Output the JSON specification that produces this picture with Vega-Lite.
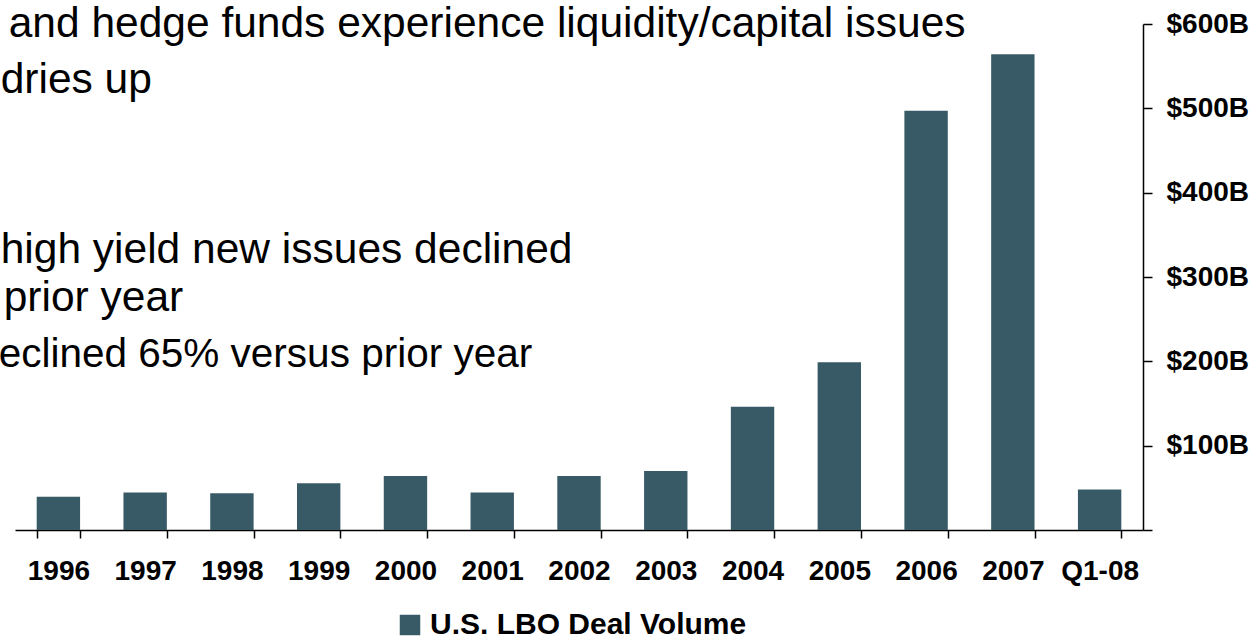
{
  "$schema": "https://vega.github.io/schema/vega-lite/v6.json",
  "autosize": {"type": "none"},
  "width": 1128,
  "height": 506,
  "padding": {"left": 15, "top": 24, "right": 110, "bottom": 109},
  "background": "white",
  "config": {
    "view": {"stroke": null},
    "font": "Liberation Sans"
  },
  "layer": [
    {
      "data": {
        "values": [
          {"period": "1996", "volume": 39.5, "series": "U.S. LBO Deal Volume"},
          {"period": "1997", "volume": 44.5, "series": "U.S. LBO Deal Volume"},
          {"period": "1998", "volume": 43.5, "series": "U.S. LBO Deal Volume"},
          {"period": "1999", "volume": 55.5, "series": "U.S. LBO Deal Volume"},
          {"period": "2000", "volume": 64, "series": "U.S. LBO Deal Volume"},
          {"period": "2001", "volume": 44.5, "series": "U.S. LBO Deal Volume"},
          {"period": "2002", "volume": 64, "series": "U.S. LBO Deal Volume"},
          {"period": "2003", "volume": 70, "series": "U.S. LBO Deal Volume"},
          {"period": "2004", "volume": 146, "series": "U.S. LBO Deal Volume"},
          {"period": "2005", "volume": 199, "series": "U.S. LBO Deal Volume"},
          {"period": "2006", "volume": 497, "series": "U.S. LBO Deal Volume"},
          {"period": "2007", "volume": 564, "series": "U.S. LBO Deal Volume"},
          {"period": "Q1-08", "volume": 48, "series": "U.S. LBO Deal Volume"}
        ]
      },
      "mark": {"type": "bar"},
      "encoding": {
        "x": {
          "field": "period",
          "type": "nominal",
          "sort": null,
          "scale": {"paddingInner": 0.5, "paddingOuter": 0.25},
          "axis": {
            "title": null,
            "labelAngle": 0,
            "labelFont": "Liberation Sans",
            "labelFontSize": 28,
            "labelFontWeight": "bold",
            "labelColor": "#000000",
            "labelPadding": 19,
            "domainColor": "#000000",
            "domainWidth": 1.5,
            "tickColor": "#000000",
            "tickWidth": 1.5,
            "tickSize": 8,
            "tickBand": "extent",
            "labelFlush": false
          }
        },
        "y": {
          "field": "volume",
          "type": "quantitative",
          "scale": {"domain": [0, 600], "nice": false},
          "axis": {
            "orient": "right",
            "title": null,
            "grid": false,
            "values": [0, 100, 200, 300, 400, 500, 600],
            "labelExpr": "datum.value == 0 ? '' : '$' + datum.value + 'B'",
            "labelFont": "Liberation Sans",
            "labelFontSize": 28,
            "labelFontWeight": "bold",
            "labelColor": "#000000",
            "labelPadding": 14,
            "domainColor": "#000000",
            "domainWidth": 1.5,
            "tickColor": "#000000",
            "tickWidth": 1.5,
            "tickSize": 9
          }
        },
        "color": {
          "field": "series",
          "type": "nominal",
          "scale": {"range": ["#385a66"]},
          "legend": {
            "orient": "none",
            "legendX": 380,
            "legendY": 586,
            "direction": "horizontal",
            "title": null,
            "symbolType": "square",
            "symbolSize": 420,
            "symbolStrokeWidth": 0,
            "labelFont": "Liberation Sans",
            "labelFontSize": 30,
            "labelFontWeight": "bold",
            "labelColor": "#000000",
            "labelLimit": 0,
            "labelOffset": 5
          }
        }
      }
    },
    {
      "data": {"values": [{"note": "and hedge funds experience liquidity/capital issues", "at": 585}]},
      "mark": {"type": "text", "align": "left", "baseline": "alphabetic", "fontSize": 42.5, "font": "Liberation Sans", "color": "#000000", "dx": -28},
      "encoding": {
        "x": {"datum": "1996", "type": "nominal", "bandPosition": 0},
        "y": {"field": "at", "type": "quantitative"},
        "text": {"field": "note"}
      }
    },
    {
      "data": {"values": [{"note": "dries up", "at": 518}, {"note": "high yield new issues declined", "at": 317}]},
      "mark": {"type": "text", "align": "left", "baseline": "alphabetic", "fontSize": 42.5, "font": "Liberation Sans", "color": "#000000", "dx": -36},
      "encoding": {
        "x": {"datum": "1996", "type": "nominal", "bandPosition": 0},
        "y": {"field": "at", "type": "quantitative"},
        "text": {"field": "note"}
      }
    },
    {
      "data": {"values": [{"note": "prior year", "at": 260}]},
      "mark": {"type": "text", "align": "left", "baseline": "alphabetic", "fontSize": 42.5, "font": "Liberation Sans", "color": "#000000", "dx": -33},
      "encoding": {
        "x": {"datum": "1996", "type": "nominal", "bandPosition": 0},
        "y": {"field": "at", "type": "quantitative"},
        "text": {"field": "note"}
      }
    },
    {
      "data": {"values": [{"note": "eclined 65% versus prior year", "at": 193}]},
      "mark": {"type": "text", "align": "left", "baseline": "alphabetic", "fontSize": 40.5, "font": "Liberation Sans", "color": "#000000", "dx": -38},
      "encoding": {
        "x": {"datum": "1996", "type": "nominal", "bandPosition": 0},
        "y": {"field": "at", "type": "quantitative"},
        "text": {"field": "note"}
      }
    }
  ]
}
